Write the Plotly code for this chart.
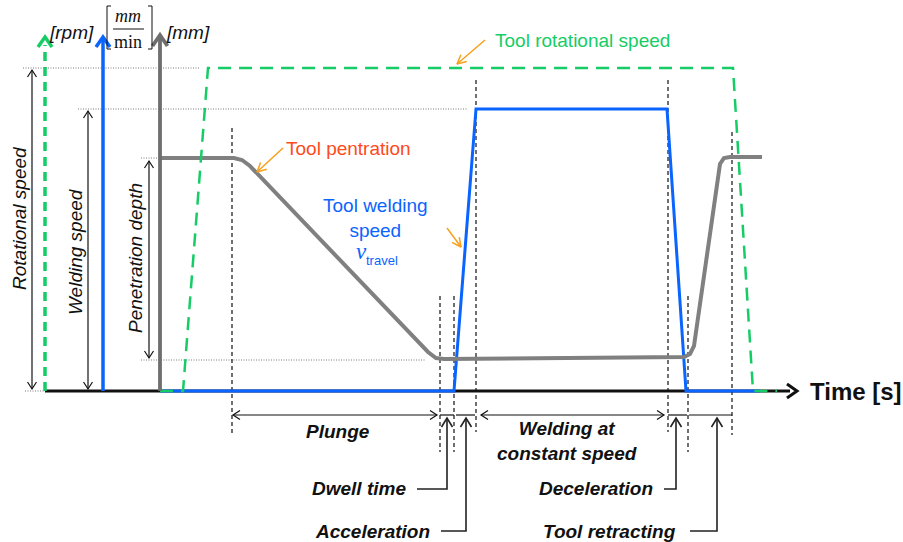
import math
import plotly.graph_objects as go

# ---------------- data (time in px-units along the time axis, values as height above baseline) -------------
time_rot = [160, 183, 208, 733, 753, 777]
rot_speed = [0, 0, 323, 323, 0, 0]

time_weld = [160, 454, 476, 667, 686, 760]
weld_speed = [0, 0, 282, 282, 0, 0]

time_pen = [160, 234, 242, 250, 428, 436, 444, 684, 690, 694, 720, 724, 730, 762]
pen_depth = [233, 233, 231, 225, 39, 33, 32, 34, 37, 45, 227, 233, 234, 234]

phase_bounds = [232, 440, 454, 476, 668, 688, 732]
phase_names = ["Plunge", "Dwell time", "Acceleration", "Welding at<br>constant speed",
               "Deceleration", "Tool retracting"]

FONT = "Liberation Sans"
SERIF = "Liberation Serif"
GREEN = "#16cc66"
BLUE = "#0a64ff"
GRAY = "#808080"
ORANGE = "#f7a01b"
BLACK = "#111111"

fig = go.Figure()


def add_path(paths, color, width, dash="solid"):
    xs, ys = [], []
    for p in paths:
        for (x, y) in p:
            xs.append(x)
            ys.append(y)
        xs.append(None)
        ys.append(None)
    fig.add_trace(go.Scatter(x=xs, y=ys, mode="lines", hoverinfo="skip",
                             line=dict(color=color, width=width, dash=dash)))


def head(tip, frm, L, W):
    dx, dy = tip[0] - frm[0], tip[1] - frm[1]
    n = math.hypot(dx, dy)
    dx, dy = dx / n, dy / n
    px, py = -dy, dx
    bx, by = tip[0] - L * dx, tip[1] - L * dy
    return [(bx + W * px, by + W * py), tip, (bx - W * px, by - W * py)]


def arrow(frm, tip, L=7, W=4.5, both=False):
    out = [[frm, tip], head(tip, frm, L, W)]
    if both:
        out.append(head(frm, tip, L, W))
    return out


# ---------- dotted guides ----------
guides = [((23, 323), (200, 323)), ((78, 282), (467, 282)), ((141, 233), (160, 233)),
          ((141, 31), (425, 31)), ((25, 0), (45, 0))]
add_path([list(g) for g in guides], "#7a7a7a", 1, "1px,1.5px")

# ---------- phase dashed verticals ----------
vert = [(232, 263, -44), (440, 95, -61), (454, 95, -61), (476, 311, -41),
        (668, 311, -41), (688, 95, -61), (732, 259, -44)]
add_path([[(x, a), (x, b)] for x, a, b in vert], BLACK, 1.2, "4px,3px")

# ---------- baseline ----------
add_path([[(45, 0), (790, 0)]], BLACK, 3)
add_path([head((797, 0), (780, 0), 10, 7)], BLACK, 3)

# ---------- curves ----------
fig.add_trace(go.Scatter(x=time_weld, y=weld_speed, mode="lines", hoverinfo="skip",
                         line=dict(color=BLUE, width=3)))
fig.add_trace(go.Scatter(x=time_pen, y=pen_depth, mode="lines", hoverinfo="skip",
                         line=dict(color=GRAY, width=4)))
fig.add_trace(go.Scatter(x=time_rot, y=rot_speed, mode="lines", hoverinfo="skip",
                         line=dict(color=GREEN, width=2.5, dash="13px,8px")))

# ---------- axes ----------
add_path([[(45, 0), (45, 346)]], GREEN, 3.5, "9px,6px")
add_path([head((45, 354), (45, 0), 10, 7)], GREEN, 3.5)
add_path([[(103, 0), (103, 352)], head((103, 354), (103, 0), 10, 7)], BLUE, 3.5)
add_path([[(160, 0), (160, 354)], head((160, 356), (160, 0), 11, 7.5)], "#6e6e6e", 3.8)

# ---------- vertical double arrows ----------
dbl = []
dbl += arrow((32, 2), (32, 321), both=True)
dbl += arrow((88, 2), (88, 280), both=True)
dbl += arrow((149, 33), (149, 230), both=True)
# time span arrows
dbl += arrow((233, -24), (437, -24), both=True)
dbl += arrow((481, -24), (664, -24), both=True)
dbl += [[(440, -24), (454, -24)], [(456, -24), (475, -24)],
        [(668, -24), (687, -24)], [(689, -24), (732, -24)]]
add_path(dbl, BLACK, 1.2)

# ---------- callouts ----------
call = []
for (x0, x1, yb) in [(417, 447, -98), (441, 466, -140), (664, 676, -98), (690, 717, -140)]:
    call.append([(x0, yb), (x1, yb), (x1, -27)])
    call.append(head((x1, -27), (x1, -60), 9, 5.5))
add_path(call, "#222222", 1.6)

# ---------- orange pointers ----------
org = []
org += arrow((283, 243), (257, 219), 9, 4.5)
org += arrow((485, 351), (457, 327), 9, 4.5)
org += arrow((447, 163), (461, 144), 9, 4.5)
add_path(org, ORANGE, 1.5)

# ---------- unit bracket fraction ----------
add_path([[(111, 385), (107, 385), (107, 342), (111, 342)],
          [(148, 385), (152, 385), (152, 342), (148, 342)],
          [(113, 362), (144, 362)]], BLACK, 1)

ann = []


def txt(x, y, s, size=19, color=BLACK, xanchor="center", family=FONT, angle=0, yanchor="middle"):
    ann.append(dict(x=x, y=y, xref="x", yref="y", text=s, showarrow=False,
                    xanchor=xanchor, yanchor=yanchor, textangle=angle,
                    font=dict(family=family, size=size, color=color)))


txt(71, 359, "<i>[rpm]</i>")
txt(188, 359, "<i>[mm]</i>")
txt(128, 375, "<i>mm</i>", size=18, family=SERIF)
txt(128, 349, "min", size=18, family=SERIF)
txt(19, 173, "<i>Rotational speed</i>", angle=-90)
txt(75, 139, "<i>Welding speed</i>", angle=-90)
txt(135, 133, "<i>Penetration depth</i>", angle=-90)
txt(284, 243, "Tool pentration", color="#ff4a1a", xanchor="left")
txt(493, 351, "Tool rotational speed", color=GREEN, xanchor="left")
ann.append(dict(x=375, y=173, xref="x", yref="y", text="Tool welding<br>speed", showarrow=False,
                xanchor="center", yanchor="middle", align="center",
                font=dict(family=FONT, size=19, color=BLUE)))
txt(361, 140, "<i>v</i>", size=23, color=BLUE, family=SERIF)
txt(364, 131, "travel", size=13, color=BLUE, xanchor="left")
txt(808, 0, "<b>Time [s]</b>", size=24, xanchor="left")

txt(338, -40, "<b><i>" + phase_names[0] + "</i></b>")
ann.append(dict(x=567, y=-50, xref="x", yref="y", text="<b><i>" + phase_names[3] + "</i></b>",
                showarrow=False, xanchor="center", yanchor="middle", align="center",
                font=dict(family=FONT, size=19, color=BLACK)))
txt(408, -97, "<b><i>" + phase_names[1] + "</i></b>", xanchor="right")
txt(432, -140, "<b><i>" + phase_names[2] + "</i></b>", xanchor="right")
txt(655, -97, "<b><i>" + phase_names[4] + "</i></b>", xanchor="right")
txt(678, -140, "<b><i>" + phase_names[5] + "</i></b>", xanchor="right")

fig.update_layout(
    width=903, height=542, autosize=False,
    margin=dict(l=0, r=0, t=0, b=0),
    paper_bgcolor="white", plot_bgcolor="white",
    showlegend=False,
    annotations=ann,
    xaxis=dict(range=[0, 903], visible=False, fixedrange=True),
    yaxis=dict(range=[-151, 391], visible=False, fixedrange=True),
)

fig.write_html("out.html", config={"displayModeBar": False},
               post_script="document.body.style.margin='0px';document.body.style.overflow='hidden';")
